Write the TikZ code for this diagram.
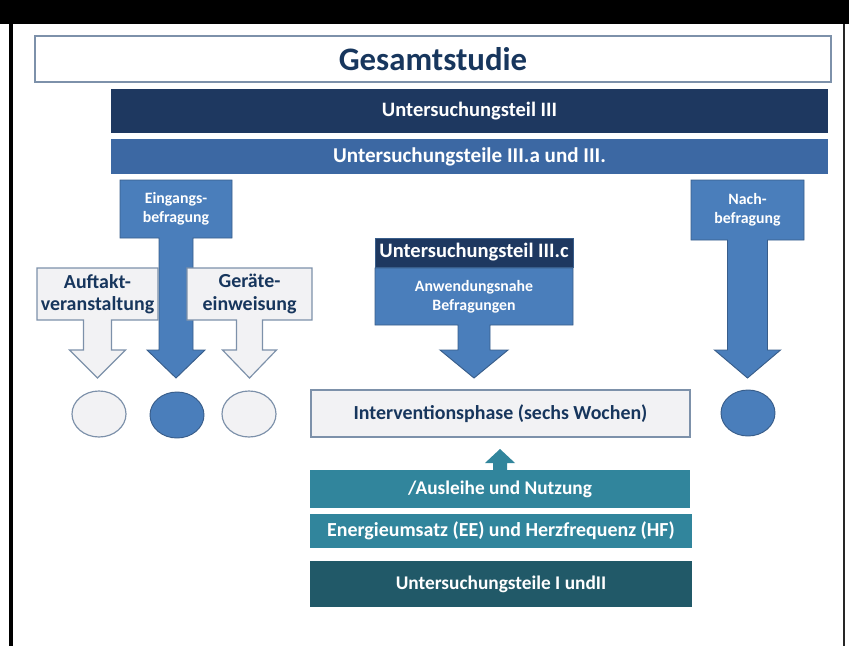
\documentclass[tikz,border=0pt]{standalone}
\usepackage{fontspec}
\setmainfont{Carlito}
\usetikzlibrary{calc,backgrounds,shapes.geometric}

\definecolor{navy}{RGB}{30,56,96}
\definecolor{midblue}{RGB}{60,104,163}
\definecolor{arrowblue}{RGB}{74,126,187}
\definecolor{edgeblue}{RGB}{56,93,138}
\definecolor{lightfill}{RGB}{242,242,244}
\definecolor{greyedge}{RGB}{125,145,170}
\definecolor{tealbar}{RGB}{49,133,156}
\definecolor{darkteal}{RGB}{33,89,104}
\definecolor{titleblue}{RGB}{23,54,93}

\newdimen\px
\px=0.03cm

% block arrow: box node, shaft half width, head half width, shaft length, style
\newcommand{\blockarrow}[5]{%
  \path[#5] (#1.north west) -- (#1.north east) -- (#1.south east)
    -- ($(#1.south)+(#2,0)$) -- ++(0,#4) -- ++({#3-#2},0) -- ++(-#3,28)
    -- ++(-#3,-28) -- ++({#3-#2},0) -- ++(0,-#4) -- (#1.south west) -- cycle;
}

\tikzset{
  box/.style={rectangle, inner sep=0pt, outer sep=0pt, align=center},
  bartext/.style={font=\bfseries\fontsize{16.5}{19}\selectfont, text=white},
  smalltext/.style={font=\bfseries\fontsize{13.5}{16}\selectfont, text=white},
  darktext/.style={font=\bfseries\fontsize{17}{19}\selectfont, text=titleblue},
  bluearrow/.style={fill=arrowblue, draw=edgeblue, line width=0.8pt},
  greyarrow/.style={fill=lightfill, draw=greyedge, line width=1pt},
  dot/.style={ellipse, minimum width=54\px, minimum height=46\px, inner sep=0pt}
}

\begin{document}
\begin{tikzpicture}[x=0.03cm, y=-0.03cm]
\useasboundingbox (0,0) rectangle (849,646);
% frame
\fill[black] (0,0) rectangle (849,24);
\fill[black] (9,24) rectangle (13,646);
\fill[black!85] (843,24) rectangle (845,646);

% top
\node[box, draw=greyedge, line width=1.2pt, fill=white, minimum width=796\px, minimum height=46\px,
  font=\bfseries\fontsize{28}{32}\selectfont, text=titleblue] (gesamt) at (433,59) {Gesamtstudie};
\node[box, bartext, fill=navy, minimum width=717\px, minimum height=44\px, font=\bfseries\fontsize{17.5}{20}\selectfont] (teil3) at (469.5,111) {Untersuchungsteil III};
\node[box, bartext, fill=midblue, minimum width=717\px, minimum height=35\px, font=\bfseries\fontsize{18}{20}\selectfont] (teil3ab) at (469.5,156.5) {Untersuchungsteile III.a und III.};

% arrow boxes
\node[box, smalltext, minimum width=112\px, minimum height=58\px] (ein) at (176,209) {Eingangs-\\befragung};
\node[box, darktext, minimum width=121\px, minimum height=52\px] (auf) at (97.5,294) {Auftakt-\\veranstaltung};
\node[box, darktext, minimum width=125\px, minimum height=52\px] (ger) at (249.5,294) {Geräte-\\einweisung};
\node[box, smalltext, minimum width=113\px, minimum height=60\px] (nach) at (747.5,210) {Nach-\\befragung};
\node[box, smalltext, minimum width=198\px, minimum height=57\px] (anw) at (474,296.5) {Anwendungsnahe\\Befragungen};
\node[box, bartext, fill=navy, draw=edgeblue, minimum width=198\px, minimum height=29\px, font=\bfseries\fontsize{17.5}{19}\selectfont] (teil3c) at (474,252.5) {Untersuchungsteil III.c};

\begin{scope}[on background layer]
\blockarrow{ein}{17}{29}{112}{bluearrow}
\blockarrow{auf}{14}{28}{30}{greyarrow}
\blockarrow{ger}{13}{27}{30}{greyarrow}
\blockarrow{nach}{20}{33}{110}{bluearrow}
\blockarrow{anw}{16}{34}{25}{bluearrow}
\end{scope}

% circles
\node[dot, fill=lightfill, draw=greyedge, line width=1pt] (c1) at (99,414) {};
\node[dot, fill=arrowblue, draw=edgeblue, line width=0.8pt] (c2) at (177,415) {};
\node[dot, fill=lightfill, draw=greyedge, line width=1pt] (c3) at (249,414) {};
\node[dot, fill=arrowblue, draw=edgeblue, line width=0.8pt] (c4) at (748,413) {};

% intervention
\node[box, fill=lightfill, draw=greyedge, line width=1.2pt, minimum width=379\px, minimum height=47\px,
  font=\bfseries\fontsize{17}{19}\selectfont, text=titleblue] (iv) at (500.5,413.5) {Interventionsphase (sechs Wochen)};
\node[box, bartext, fill=tealbar, minimum width=380\px, minimum height=38\px] (aus) at (500,489) {/Ausleihe und Nutzung};
\node[box, bartext, fill=tealbar, minimum width=382\px, minimum height=34\px, font=\bfseries\fontsize{17}{19}\selectfont] (ee) at (501,531) {Energieumsatz (EE) und Herzfrequenz (HF)};
\node[box, bartext, fill=darkteal, minimum width=382\px, minimum height=46\px] (teil12) at (501,584) {Untersuchungsteile I undII};

\fill[tealbar] ($(aus.north)+(-7,0)$) -- ++(0,-7) -- ++(-8,0) -- ++(15,-14) -- ++(15,14) -- ++(-8,0) -- ++(0,7) -- cycle;
\end{tikzpicture}
\end{document}
